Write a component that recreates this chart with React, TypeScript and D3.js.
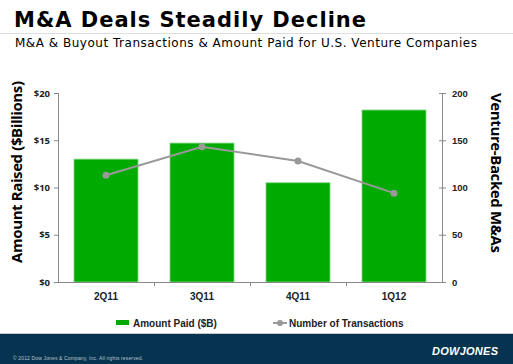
import React, { useEffect, useRef } from 'react';
import * as d3 from 'd3';

const quarters = ['2Q11', '3Q11', '4Q11', '1Q12'];
const amountPaid = [13.0, 14.7, 10.5, 18.2];
const transactions = [113, 143, 128, 94];
const leftTicks = [0, 5, 10, 15, 20];
const rightTicks = [0, 50, 100, 150, 200];

function App() {
  const ref = useRef<any>(null);
  const dims = { width: 513, height: 364 };
  const m = { left: 58, right: 442, top: 93, bottom: 282 };

  useEffect(() => {
    const svg = d3.select(ref.current).attr('width', dims.width).attr('height', dims.height);
    svg.selectAll('*').remove();
    svg.append('rect').attr('width', dims.width).attr('height', dims.height).attr('fill', '#fff');

    // header
    svg
      .append('text')
      .attr('x', 14)
      .attr('y', 27)
      .attr('font-family', 'DejaVu Sans')
      .attr('font-weight', 'bold')
      .attr('font-size', 21)
      .attr('textLength', 352)
      .attr('fill', '#000')
      .text('M&A Deals Steadily Decline');
    svg.append('line').attr('x1', 0).attr('x2', 513).attr('y1', 33.5).attr('y2', 33.5).attr('stroke', '#ddd');
    svg
      .append('text')
      .attr('x', 15)
      .attr('y', 47)
      .attr('font-family', 'DejaVu Sans')
      .attr('font-size', 12)
      .attr('textLength', 462)
      .attr('fill', '#000')
      .text('M&A & Buyout Transactions & Amount Paid for U.S. Venture Companies');

    const x = d3.scaleBand().domain(quarters).range([m.left, m.right]).paddingInner(1 / 3).paddingOuter(1 / 6);
    const yL = d3.scaleLinear().domain([0, 20]).range([m.bottom, m.top]);
    const yR = d3.scaleLinear().domain([0, 200]).range([m.bottom, m.top]);

    // bars
    svg
      .append('g')
      .selectAll('rect')
      .data(amountPaid)
      .join('rect')
      .attr('x', (d, i) => x(quarters[i])!)
      .attr('y', (d) => yL(d))
      .attr('width', x.bandwidth())
      .attr('height', (d) => m.bottom - yL(d))
      .attr('fill', '#00aa00')
      .attr('stroke', '#7fd67f')
      .attr('stroke-width', 0.8);

    const axisColor = '#888';
    // left axis
    const gl = svg.append('g');
    gl.append('line').attr('x1', m.left + 0.5).attr('x2', m.left + 0.5).attr('y1', m.top).attr('y2', m.bottom).attr('stroke', axisColor);
    leftTicks.forEach((t) => {
      gl.append('line').attr('x1', m.left - 4).attr('x2', m.left).attr('y1', yL(t) + 0.5).attr('y2', yL(t) + 0.5).attr('stroke', axisColor);
      gl.append('text')
        .attr('x', m.left - 8)
        .attr('y', yL(t) + 3.5)
        .attr('text-anchor', 'end')
        .attr('font-family', 'Open Sans')
        .attr('font-weight', 'bold')
        .attr('font-size', 9.5)
        .attr('fill', '#222')
        .text('$' + t);
    });

    // right axis
    const gr = svg.append('g');
    gr.append('line').attr('x1', m.right + 0.5).attr('x2', m.right + 0.5).attr('y1', m.top).attr('y2', m.bottom).attr('stroke', axisColor);
    rightTicks.forEach((t) => {
      gr.append('line').attr('x1', m.right - 3).attr('x2', m.right + 4).attr('y1', yR(t) + 0.5).attr('y2', yR(t) + 0.5).attr('stroke', axisColor);
      gr.append('text')
        .attr('x', m.right + 10)
        .attr('y', yR(t) + 3.5)
        .attr('font-family', 'Liberation Sans')
        .attr('font-weight', 'bold')
        .attr('font-size', 9.5)
        .attr('fill', '#222')
        .text(String(t));
    });

    // x axis
    const gx = svg.append('g');
    gx.append('line').attr('x1', m.left).attr('x2', m.right + 4).attr('y1', m.bottom + 0.5).attr('y2', m.bottom + 0.5).attr('stroke', axisColor);
    const step = x.step();
    quarters.slice(1).forEach((q) => {
      const bx = x(q)! - (step - x.bandwidth()) / 2;
      gx.append('line').attr('x1', bx + 0.5).attr('x2', bx + 0.5).attr('y1', m.bottom).attr('y2', m.bottom + 4).attr('stroke', axisColor);
    });
    quarters.forEach((q) => {
      gx.append('text')
        .attr('x', x(q)! + x.bandwidth() / 2)
        .attr('y', m.bottom + 18)
        .attr('text-anchor', 'middle')
        .attr('font-family', 'Liberation Sans')
        .attr('font-weight', 'bold')
        .attr('font-size', 10)
        .attr('fill', '#222')
        .text(q);
    });

    // line
    const line = d3
      .line<number>()
      .x((d, i) => x(quarters[i])! + x.bandwidth() / 2)
      .y((d) => yR(d));
    svg.append('path').datum(transactions).attr('d', line).attr('fill', 'none').attr('stroke', '#999').attr('stroke-width', 2);
    svg
      .append('g')
      .selectAll('circle')
      .data(transactions)
      .join('circle')
      .attr('cx', (d, i) => x(quarters[i])! + x.bandwidth() / 2)
      .attr('cy', (d) => yR(d))
      .attr('r', 3.5)
      .attr('fill', '#999');

    // axis titles
    svg
      .append('text')
      .attr('transform', 'translate(22,172) rotate(-90)')
      .attr('text-anchor', 'middle')
      .attr('font-family', 'Open Sans')
      .attr('font-weight', 'bold')
      .attr('font-size', 15)
      .attr('textLength', 182)
      .attr('fill', '#000')
      .text('Amount Raised ($Billions)');
    svg
      .append('text')
      .attr('transform', 'translate(491,173) rotate(90)')
      .attr('text-anchor', 'middle')
      .attr('font-family', 'Open Sans')
      .attr('font-weight', 'bold')
      .attr('font-size', 15)
      .attr('textLength', 160)
      .attr('fill', '#000')
      .text('Venture-Backed M&As');

    // legend
    const lg = svg.append('g').attr('font-family', 'Liberation Sans').attr('font-weight', 'bold').attr('font-size', 10).attr('fill', '#222');
    lg.append('rect').attr('x', 116).attr('y', 320).attr('width', 13).attr('height', 5).attr('fill', '#00aa00');
    lg.append('text').attr('x', 133).attr('y', 327).text('Amount Paid ($B)');
    lg.append('line').attr('x1', 273).attr('x2', 287).attr('y1', 323).attr('y2', 323).attr('stroke', '#999').attr('stroke-width', 2);
    lg.append('circle').attr('cx', 280).attr('cy', 323).attr('r', 3).attr('fill', '#999');
    lg.append('text').attr('x', 289).attr('y', 327).text('Number of Transactions');

    // footer
    svg.append('line').attr('x1', 0).attr('x2', 513).attr('y1', 333.5).attr('y2', 333.5).attr('stroke', '#c8c8c8');
    svg.append('rect').attr('x', 0).attr('y', 334).attr('width', 513).attr('height', 30).attr('fill', '#06334f');
    svg
      .append('text')
      .attr('x', 13)
      .attr('y', 360)
      .attr('font-family', 'Liberation Sans')
      .attr('font-size', 5)
      .attr('textLength', 130)
      .attr('fill', '#b8c4cc')
      .text('© 2012 Dow Jones & Company, Inc. All rights reserved.');
    svg
      .append('text')
      .attr('x', 432)
      .attr('y', 355)
      .attr('font-family', 'Liberation Sans')
      .attr('font-weight', 'bold')
      .attr('font-style', 'italic')
      .attr('font-size', 11)
      .attr('textLength', 66)
      .attr('fill', '#fff')
      .text('DOWJONES');
  });

  return (
    <div>
      <svg ref={ref} style={{ position: 'absolute', left: 0, top: 0, display: 'block' }}></svg>
    </div>
  );
}

export default App;
